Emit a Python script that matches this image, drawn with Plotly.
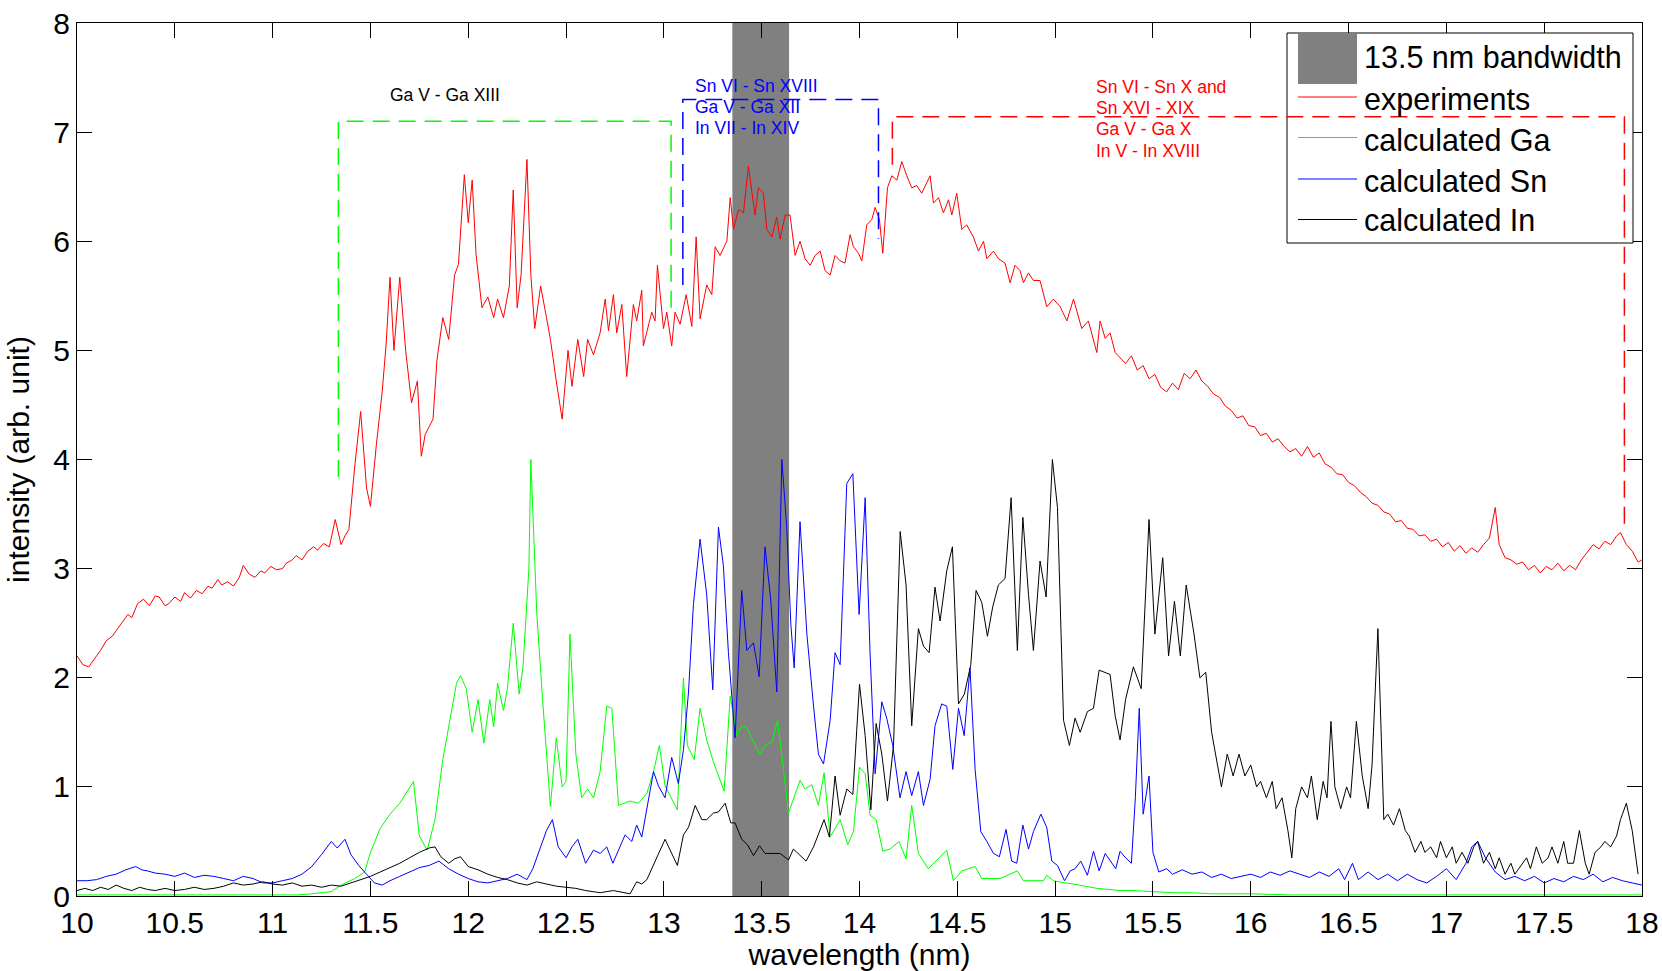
import plotly.graph_objects as go

# ---------------- data ----------------
exp_x = [10.00, 10.03, 10.06, 10.09, 10.12, 10.15, 10.18, 10.20, 10.23, 10.26, 10.28, 10.31, 10.34, 10.37, 10.40,
         10.42, 10.45, 10.47, 10.50, 10.53, 10.55, 10.58, 10.61, 10.64, 10.67, 10.69, 10.72, 10.74, 10.77, 10.80,
         10.83, 10.85, 10.88, 10.91, 10.94, 10.96, 10.99, 11.02, 11.05, 11.07, 11.10, 11.12, 11.15, 11.18, 11.21,
         11.23, 11.26, 11.29, 11.32, 11.35, 11.37, 11.39, 11.42, 11.45, 11.48, 11.50, 11.53, 11.56, 11.58, 11.60,
         11.62, 11.65, 11.68, 11.71, 11.74, 11.76, 11.78, 11.82, 11.84, 11.87, 11.90, 11.93, 11.95, 11.98, 12.00,
         12.02, 12.04, 12.07, 12.10, 12.13, 12.15, 12.18, 12.21, 12.23, 12.25, 12.27, 12.30, 12.32, 12.34, 12.37,
         12.40, 12.42, 12.45, 12.48, 12.51, 12.53, 12.56, 12.59, 12.61, 12.64,
         12.674, 12.700, 12.717, 12.742, 12.759, 12.785, 12.810, 12.844, 12.861, 12.887, 12.895, 12.938, 12.955,
         12.967, 12.998, 13.015, 13.040, 13.057, 13.083, 13.114, 13.143, 13.165, 13.185, 13.219, 13.245, 13.262,
         13.287, 13.322, 13.339, 13.356, 13.381, 13.407, 13.432, 13.466, 13.483, 13.509, 13.526, 13.552, 13.577,
         13.594, 13.620, 13.645, 13.671, 13.696, 13.722, 13.748, 13.773, 13.799, 13.824, 13.850, 13.875, 13.901,
         13.926, 13.952, 13.969, 13.995, 14.012, 14.037, 14.063, 14.080, 14.102, 14.119, 14.143, 14.165, 14.191,
         14.216, 14.242, 14.267, 14.293, 14.318, 14.361, 14.378, 14.404, 14.429, 14.455, 14.472, 14.497, 14.523,
         14.548, 14.582, 14.608, 14.634, 14.651, 14.685, 14.710, 14.744, 14.770, 14.795, 14.821, 14.838, 14.864,
         14.889, 14.923, 14.957, 14.991, 15.026, 15.060, 15.094, 15.136, 15.170, 15.213, 15.230, 15.256, 15.281,
         15.307, 15.332,
         15.36, 15.39, 15.42, 15.45, 15.48, 15.51, 15.54, 15.57, 15.60, 15.63, 15.66, 15.69, 15.72, 15.75, 15.78,
         15.81, 15.84, 15.87, 15.90, 15.93, 15.96, 15.99, 16.02, 16.05, 16.08, 16.11, 16.14, 16.17, 16.20, 16.23,
         16.26, 16.29, 16.32, 16.35, 16.38, 16.41, 16.44, 16.47, 16.50, 16.53, 16.56, 16.59, 16.62, 16.65, 16.68,
         16.71, 16.74, 16.77, 16.80, 16.83, 16.86, 16.89, 16.92, 16.95, 16.98, 17.01, 17.04, 17.07, 17.10, 17.13,
         17.16, 17.19, 17.22, 17.25, 17.27, 17.30, 17.33, 17.36, 17.39, 17.42, 17.45, 17.48, 17.51, 17.54, 17.57,
         17.60, 17.63, 17.66, 17.69, 17.72, 17.75, 17.78, 17.81, 17.84, 17.87, 17.89, 17.92, 17.95, 17.98, 18.00]
exp_y = [2.20, 2.12, 2.10, 2.17, 2.25, 2.34, 2.38, 2.43, 2.50, 2.58, 2.55, 2.68, 2.72, 2.66, 2.75,
         2.74, 2.66, 2.68, 2.74, 2.70, 2.78, 2.73, 2.80, 2.77, 2.84, 2.82, 2.90, 2.85, 2.88, 2.84,
         2.92, 3.03, 2.95, 2.92, 2.98, 2.96, 3.02, 2.99, 3.00, 3.05, 3.08, 3.12, 3.08, 3.16, 3.20,
         3.17, 3.23, 3.20, 3.45, 3.22, 3.30, 3.36, 3.94, 4.44, 3.74, 3.57, 4.13, 4.62, 5.05, 5.67,
         5.00, 5.67, 5.00, 4.52, 4.72, 4.03, 4.23, 4.37, 4.91, 5.30, 5.10, 5.69, 5.79, 6.61, 6.17,
         6.56, 5.88, 5.39, 5.49, 5.30, 5.47, 5.30, 5.59, 6.47, 5.39, 5.69, 6.75, 5.69, 5.20, 5.59,
         5.30, 5.10, 4.72, 4.37, 5.00, 4.67, 5.10, 4.76, 5.10, 4.96,
         5.16, 5.47, 5.18, 5.51, 5.16, 5.42, 4.76, 5.42, 5.27, 5.55, 5.04, 5.35, 5.27,
         5.78, 5.20, 5.35, 5.04, 5.35, 5.24, 5.51, 5.22, 6.04, 5.29, 5.60, 5.51, 5.95,
         5.87, 6.00, 6.40, 6.11, 6.29, 6.26, 6.69, 6.24, 6.49, 6.44, 6.11, 6.04, 6.22,
         6.02, 6.24, 6.24, 5.87, 6.00, 5.84, 5.78, 5.87, 5.91, 5.73, 5.69, 5.87, 5.82,
         5.80, 6.06, 5.95, 5.89, 5.82, 6.15, 6.20, 6.31, 6.20, 5.89, 6.49, 6.60, 6.56,
         6.73, 6.60, 6.49, 6.51, 6.44, 6.60, 6.35, 6.40, 6.26, 6.38, 6.24, 6.44, 6.11,
         6.15, 6.04, 5.91, 6.00, 5.84, 5.91, 5.84, 5.80, 5.62, 5.78, 5.73, 5.62, 5.71,
         5.64, 5.64, 5.40, 5.47, 5.40, 5.27, 5.47, 5.20, 5.27, 4.98, 5.27, 5.11, 5.16,
         4.98, 4.93,
         4.88, 4.95, 4.82, 4.86, 4.74, 4.78, 4.66, 4.62, 4.70, 4.64, 4.79, 4.74, 4.82, 4.72, 4.67,
         4.60, 4.57, 4.49, 4.45, 4.38, 4.40, 4.31, 4.30, 4.22, 4.24, 4.16, 4.19, 4.12, 4.07, 4.10,
         4.03, 4.12, 4.02, 4.06, 3.96, 3.93, 3.87, 3.86, 3.79, 3.76, 3.70, 3.66, 3.60, 3.58, 3.52,
         3.50, 3.43, 3.44, 3.37, 3.36, 3.30, 3.31, 3.25, 3.27, 3.20, 3.24, 3.16, 3.21, 3.14, 3.19,
         3.15, 3.22, 3.28, 3.56, 3.22, 3.10, 3.08, 3.04, 3.06, 2.99, 3.03, 2.96, 3.02, 2.99, 3.05,
         2.98, 3.03, 2.99, 3.08, 3.15, 3.22, 3.18, 3.25, 3.22, 3.30, 3.33, 3.22, 3.16, 3.06, 3.08]

ga_x = [10.00, 10.50, 11.00, 11.13, 11.20, 11.30, 11.35, 11.42, 11.47, 11.50, 11.55, 11.60, 11.65, 11.70, 11.72,
        11.75, 11.79, 11.83, 11.87, 11.91, 11.94, 11.96, 11.99, 12.02, 12.05, 12.08, 12.11, 12.13, 12.15, 12.18,
        12.20, 12.23, 12.26, 12.28, 12.31, 12.32, 12.35, 12.38, 12.40, 12.42, 12.45, 12.48, 12.50, 12.52, 12.55,
        12.58, 12.61, 12.64,
        12.674, 12.708, 12.734, 12.768, 12.827, 12.870, 12.913, 12.947, 12.977, 13.006, 13.069, 13.100, 13.120,
        13.155, 13.185, 13.219, 13.253, 13.308, 13.339, 13.373, 13.398, 13.424, 13.489, 13.517, 13.552, 13.581,
        13.608, 13.637, 13.696, 13.722, 13.756, 13.790, 13.819, 13.850, 13.901, 13.940, 13.969, 14.000, 14.029,
        14.054, 14.085, 14.119, 14.156, 14.202, 14.238, 14.267, 14.301, 14.352, 14.412, 14.446, 14.480, 14.523,
        14.591, 14.625, 14.719, 14.807, 14.838, 14.940, 14.957, 14.991, 15.051, 15.094, 15.213, 15.332,
        15.40, 15.50, 15.60, 15.70, 15.80, 16.00, 16.20, 16.50, 17.00, 17.50, 18.00]
ga_y = [0.01, 0.01, 0.01, 0.01, 0.02, 0.04, 0.10, 0.16, 0.22, 0.40, 0.62, 0.75, 0.85, 1.00, 1.05,
        0.55, 0.42, 0.70, 1.25, 1.65, 1.95, 2.02, 1.90, 1.50, 1.80, 1.40, 1.80, 1.55, 1.95, 1.70,
        1.90, 2.50, 1.85, 2.10, 3.00, 4.00, 2.60, 1.80, 1.30, 0.82, 1.45, 1.00, 1.05, 2.40, 1.30,
        0.90, 0.98, 0.90,
        1.14, 1.74, 1.72, 0.83, 0.87, 0.85, 0.94, 1.14, 1.38, 1.01, 0.79, 2.00, 1.38,
        1.25, 1.72, 1.43, 1.23, 0.96, 1.83, 1.47, 1.56, 1.54, 1.30, 1.38, 1.41, 1.61,
        1.21, 0.76, 1.06, 0.98, 1.02, 0.83, 1.13, 0.54, 0.70, 0.47, 0.59, 1.18, 1.12,
        0.74, 0.70, 0.41, 0.43, 0.50, 0.34, 0.83, 0.39, 0.25, 0.36, 0.42, 0.14, 0.23,
        0.27, 0.16, 0.16, 0.23, 0.14, 0.14, 0.19, 0.14, 0.12, 0.11, 0.07, 0.05,
        0.05, 0.04, 0.03, 0.03, 0.02, 0.02, 0.01, 0.01, 0.01, 0.01, 0.01]

sn_x = [10.00, 10.05, 10.10, 10.15, 10.20, 10.25, 10.30, 10.33, 10.36, 10.40, 10.45, 10.50, 10.55, 10.60, 10.65,
        10.70, 10.75, 10.80, 10.85, 10.90, 10.95, 11.00, 11.05, 11.10, 11.15, 11.20, 11.25, 11.30, 11.33, 11.37,
        11.40, 11.44, 11.48, 11.52, 11.56, 11.60, 11.65, 11.70, 11.75, 11.80, 11.85, 11.90, 11.95, 12.00, 12.05,
        12.10, 12.15, 12.20, 12.25, 12.30, 12.33, 12.37, 12.40, 12.43, 12.46, 12.50, 12.53, 12.56, 12.60, 12.64,
        12.674, 12.708, 12.739, 12.802, 12.836, 12.861, 12.887, 12.947, 12.972, 13.006, 13.040, 13.074, 13.100,
        13.126, 13.151, 13.185, 13.219, 13.250, 13.279, 13.304, 13.330, 13.364, 13.398, 13.424, 13.458, 13.487,
        13.517, 13.546, 13.577, 13.603, 13.628, 13.649, 13.666, 13.696, 13.731, 13.765, 13.790, 13.816, 13.850,
        13.875, 13.901, 13.935, 13.966, 13.998, 14.029, 14.054, 14.080, 14.114, 14.139, 14.170, 14.207, 14.238,
        14.267, 14.301, 14.327, 14.361, 14.386, 14.420, 14.446, 14.477, 14.506, 14.535, 14.565, 14.591, 14.620,
        14.651, 14.685, 14.715, 14.749, 14.778, 14.804, 14.835, 14.864, 14.889, 14.927, 14.957, 14.983, 15.012,
        15.048, 15.077, 15.102, 15.131, 15.165, 15.196, 15.225, 15.256, 15.285, 15.310, 15.332,
        15.36, 15.39, 15.41, 15.43, 15.45, 15.48, 15.50, 15.53, 15.57, 15.60, 15.65, 15.70, 15.75, 15.80, 15.85,
        15.90, 15.95, 16.00, 16.05, 16.10, 16.15, 16.20, 16.25, 16.30, 16.35, 16.40, 16.45, 16.48, 16.52, 16.55,
        16.60, 16.65, 16.70, 16.75, 16.80, 16.85, 16.90, 16.95, 17.00, 17.05, 17.10, 17.13, 17.16, 17.20, 17.25,
        17.30, 17.35, 17.40, 17.45, 17.50, 17.55, 17.60, 17.65, 17.70, 17.75, 17.80, 17.85, 17.90, 17.95, 18.00]
sn_y = [0.14, 0.14, 0.15, 0.18, 0.20, 0.24, 0.27, 0.24, 0.23, 0.21, 0.20, 0.18, 0.21, 0.17, 0.19,
        0.18, 0.16, 0.14, 0.18, 0.16, 0.12, 0.12, 0.14, 0.16, 0.20, 0.27, 0.38, 0.50, 0.44, 0.52,
        0.38, 0.28, 0.20, 0.12, 0.10, 0.14, 0.18, 0.22, 0.26, 0.28, 0.32, 0.25, 0.20, 0.16, 0.13,
        0.12, 0.14, 0.16, 0.20, 0.15, 0.25, 0.45, 0.60, 0.70, 0.45, 0.35, 0.45, 0.52, 0.30, 0.42,
        0.39, 0.45, 0.30, 0.56, 0.50, 0.65, 0.54, 1.14, 1.01, 0.90, 1.27, 1.03, 1.34,
        1.87, 2.67, 3.27, 2.76, 1.89, 3.38, 3.03, 2.23, 1.45, 2.80, 2.25, 2.32, 2.01,
        3.20, 2.72, 1.87, 4.00, 3.38, 2.49, 2.09, 3.43, 2.40, 1.74, 1.30, 1.21, 1.61,
        2.23, 2.12, 3.78, 3.87, 2.58, 3.65, 2.23, 1.12, 1.78, 1.63, 1.38, 0.90, 1.14,
        0.92, 1.14, 0.83, 1.07, 1.56, 1.76, 1.74, 1.16, 1.72, 1.47, 2.09, 1.16, 0.59,
        0.50, 0.39, 0.36, 0.61, 0.32, 0.30, 0.65, 0.43, 0.59, 0.75, 0.63, 0.32, 0.28,
        0.14, 0.23, 0.25, 0.32, 0.19, 0.41, 0.23, 0.39, 0.32, 0.25, 0.41,
        0.35, 0.30, 0.90, 1.72, 0.75, 1.10, 0.40, 0.22, 0.25, 0.20, 0.24, 0.20, 0.22, 0.17, 0.20,
        0.16, 0.18, 0.20, 0.17, 0.22, 0.19, 0.23, 0.20, 0.17, 0.22, 0.18, 0.25, 0.15, 0.30, 0.15,
        0.22, 0.15, 0.20, 0.14, 0.20, 0.15, 0.12, 0.18, 0.25, 0.15, 0.30, 0.45, 0.50, 0.35, 0.22,
        0.15, 0.18, 0.14, 0.18, 0.12, 0.16, 0.13, 0.18, 0.15, 0.20, 0.13, 0.17, 0.14, 0.12, 0.10]

in_x = [10.00, 10.04, 10.08, 10.12, 10.16, 10.20, 10.24, 10.28, 10.32, 10.36, 10.40, 10.45, 10.50, 10.55, 10.60,
        10.65, 10.70, 10.75, 10.80, 10.85, 10.90, 10.95, 11.00, 11.05, 11.10, 11.15, 11.20, 11.25, 11.30, 11.35,
        11.40, 11.45, 11.50, 11.55, 11.60, 11.65, 11.70, 11.75, 11.80, 11.83, 11.86, 11.90, 11.93, 11.96, 12.00,
        12.05, 12.10, 12.15, 12.20, 12.25, 12.30, 12.35, 12.40, 12.45, 12.50, 12.55, 12.60, 12.64,
        12.674, 12.742, 12.827, 12.861, 12.887, 12.913, 12.955, 13.006, 13.069, 13.100, 13.126, 13.160, 13.194,
        13.219, 13.253, 13.279, 13.313, 13.342, 13.364, 13.398, 13.427, 13.458, 13.489, 13.517, 13.552, 13.594,
        13.637, 13.662, 13.727, 13.765, 13.819, 13.846, 13.875, 13.901, 13.935, 13.966, 14.000, 14.029, 14.058,
        14.085, 14.114, 14.143, 14.174, 14.191, 14.208, 14.238, 14.267, 14.301, 14.327, 14.356, 14.386, 14.412,
        14.446, 14.475, 14.506, 14.536, 14.569, 14.596, 14.625, 14.654, 14.681, 14.710, 14.744, 14.775, 14.807,
        14.835, 14.864, 14.889, 14.923, 14.954, 14.986, 15.012, 15.043, 15.073, 15.102, 15.128, 15.165, 15.196,
        15.225, 15.281, 15.307, 15.332,
        15.36, 15.40, 15.44, 15.48, 15.51, 15.55, 15.58, 15.61, 15.64, 15.67, 15.71, 15.74, 15.77, 15.80, 15.83,
        15.85, 15.88, 15.91, 15.94, 15.97, 16.00, 16.03, 16.05, 16.08, 16.11, 16.13, 16.16, 16.19, 16.21, 16.23,
        16.26, 16.29, 16.31, 16.34, 16.37, 16.39, 16.41, 16.43, 16.46, 16.49, 16.51, 16.54, 16.57, 16.60, 16.62,
        16.65, 16.67, 16.68, 16.70, 16.73, 16.76, 16.79, 16.81, 16.84, 16.87, 16.89, 16.92, 16.95, 16.97, 17.00,
        17.03, 17.05, 17.08, 17.11, 17.14, 17.16, 17.19, 17.22, 17.25, 17.27, 17.30, 17.33, 17.35, 17.38, 17.41,
        17.43, 17.46, 17.49, 17.52, 17.54, 17.57, 17.60, 17.62, 17.65, 17.68, 17.71, 17.73, 17.76, 17.79, 17.81,
        17.84, 17.87, 17.89, 17.92, 17.95, 17.98]
in_y = [0.05, 0.07, 0.05, 0.08, 0.06, 0.10, 0.07, 0.05, 0.08, 0.06, 0.05, 0.07, 0.05, 0.06, 0.08,
        0.06, 0.07, 0.09, 0.12, 0.10, 0.11, 0.13, 0.11, 0.10, 0.12, 0.09, 0.10, 0.08, 0.10, 0.09,
        0.12, 0.15, 0.18, 0.22, 0.26, 0.30, 0.35, 0.40, 0.44, 0.45, 0.36, 0.30, 0.34, 0.36, 0.27,
        0.24, 0.20, 0.17, 0.15, 0.12, 0.10, 0.13, 0.11, 0.09, 0.08, 0.07, 0.05, 0.04,
        0.03, 0.05, 0.02, 0.13, 0.11, 0.15, 0.32, 0.52, 0.28, 0.56, 0.63, 0.83, 0.70,
        0.70, 0.76, 0.77, 0.85, 0.67, 0.67, 0.52, 0.47, 0.37, 0.46, 0.39, 0.39, 0.39,
        0.33, 0.43, 0.32, 0.45, 0.70, 0.54, 1.10, 0.74, 0.98, 0.93, 1.94, 1.47, 0.79,
        1.58, 1.30, 0.87, 1.38, 2.32, 3.34, 2.85, 1.56, 2.45, 2.29, 2.23, 2.83, 2.52,
        2.98, 3.20, 1.76, 1.85, 2.12, 2.80, 2.69, 2.38, 2.65, 2.85, 2.91, 3.65, 2.25,
        3.47, 2.76, 2.25, 3.07, 2.74, 4.00, 3.56, 1.61, 1.38, 1.63, 1.50, 1.69, 1.72,
        2.07, 2.03, 1.65, 1.43,
        1.80, 2.10, 1.90, 3.45, 2.40, 3.10, 2.20, 2.70, 2.20, 2.85, 2.40, 2.00, 2.05, 1.50, 1.20,
        1.00, 1.30, 1.10, 1.30, 1.10, 1.20, 1.00, 1.05, 0.90, 1.05, 0.80, 0.90, 0.60, 0.35, 0.80,
        1.00, 0.90, 1.10, 0.70, 1.05, 0.90, 1.60, 1.00, 0.80, 1.00, 0.90, 1.60, 1.10, 0.80, 1.20,
        2.45, 1.30, 0.70, 0.75, 0.65, 0.80, 0.60, 0.55, 0.40, 0.50, 0.40, 0.45, 0.35, 0.50, 0.35,
        0.45, 0.30, 0.40, 0.30, 0.45, 0.50, 0.30, 0.40, 0.25, 0.35, 0.20, 0.30, 0.20, 0.28, 0.35,
        0.25, 0.45, 0.30, 0.35, 0.45, 0.30, 0.50, 0.30, 0.30, 0.60, 0.30, 0.20, 0.40, 0.45, 0.50,
        0.45, 0.55, 0.70, 0.85, 0.60, 0.20]

band_x = [13.35, 13.64]           # 13.5 nm bandwidth
x_ticks = [10, 10.5, 11, 11.5, 12, 12.5, 13, 13.5, 14, 14.5, 15, 15.5, 16, 16.5, 17, 17.5, 18]
x_ticklabels = ["10", "10.5", "11", "11.5", "12", "12.5", "13", "13.5", "14", "14.5", "15", "15.5",
                "16", "16.5", "17", "17.5", "18"]
y_ticks = [0, 1, 2, 3, 4, 5, 6, 7, 8]

# ion-stage brackets (x, y of the dashed outline) and their labels
ga_bracket_x = [11.336, 11.336, 13.037, 13.037]
ga_bracket_y = [3.84, 7.10, 7.10, 5.33]
sn_bracket_x = [13.097, 13.097, 14.097, 14.097]
sn_bracket_y = [5.60, 7.30, 7.30, 6.02]
all_bracket_x = [14.168, 14.168, 17.91, 17.91]
all_bracket_y = [6.70, 7.14, 7.14, 3.40]

ga_label = ["Ga V - Ga XIII"]
sn_label = ["Sn VI - Sn XVIII", "Ga V - Ga XII", "In VII - In XIV"]
all_label = ["Sn VI - Sn X and", "Sn XVI - XIX", "Ga V - Ga X", "In V - In XVIII"]

legend_names = ["13.5 nm bandwidth", "experiments", "calculated Ga", "calculated Sn", "calculated In"]
colors = {"exp": "#FF0000", "ga": "#00FF00", "sn": "#0000FF", "in": "#000000", "band": "#808080"}

FONT = "Arial, 'Liberation Sans', Helvetica, sans-serif"

# ---------------- figure ----------------
fig = go.Figure()
fig.add_trace(go.Scatter(x=exp_x, y=exp_y, mode="lines", name=legend_names[1],
                         line=dict(color=colors["exp"], width=1)))
fig.add_trace(go.Scatter(x=ga_x, y=ga_y, mode="lines", name=legend_names[2],
                         line=dict(color=colors["ga"], width=1)))
fig.add_trace(go.Scatter(x=sn_x, y=sn_y, mode="lines", name=legend_names[3],
                         line=dict(color=colors["sn"], width=1)))
fig.add_trace(go.Scatter(x=in_x, y=in_y, mode="lines", name=legend_names[4],
                         line=dict(color=colors["in"], width=1)))

shapes = []
# grey band
shapes.append(dict(type="rect", xref="x", yref="y", x0=band_x[0], x1=band_x[1], y0=0, y1=8,
                   fillcolor=colors["band"], line=dict(width=0), layer="below"))

# manual legend (MATLAB style)
PX0, PW, PY0, PH = 77.0, 1565.0, 896.0, 873.0
def px(xp):
    return (xp - PX0) / PW
def py(yp):
    return (PY0 - yp) / PH

shapes.append(dict(type="rect", xref="paper", yref="paper", x0=px(1287), x1=px(1633), y0=py(243), y1=py(33),
                   fillcolor="white", line=dict(color="black", width=1), layer="above"))
shapes.append(dict(type="rect", xref="paper", yref="paper", x0=px(1298), x1=px(1357), y0=py(84), y1=py(34),
                   fillcolor=colors["band"], line=dict(width=0), layer="above"))
leg_rows = [97, 137.5, 179, 219.5]
for c, yy in zip(["exp", "ga", "sn", "in"], leg_rows):
    shapes.append(dict(type="line", xref="paper", yref="paper", x0=px(1298), x1=px(1357), y0=py(yy), y1=py(yy),
                       line=dict(color=colors[c], width=1), layer="above"))

def bracket(xs, ys, color):
    path = "M " + " L ".join(f"{a},{b}" for a, b in zip(xs, ys))
    return dict(type="path", xref="x", yref="y", path=path,
                line=dict(color=color, width=1.5, dash="17px,9px"), layer="above")

shapes.append(bracket(ga_bracket_x, ga_bracket_y, colors["ga"]))
shapes.append(bracket(sn_bracket_x, sn_bracket_y, colors["sn"]))
shapes.append(bracket(all_bracket_x, all_bracket_y, colors["exp"]))

annotations = []
leg_text_y = [57, 99, 140, 181, 220]
for name, yy in zip(legend_names, leg_text_y):
    annotations.append(dict(xref="paper", yref="paper", x=px(1362), y=py(yy), text=name, showarrow=False,
                            xanchor="left", yanchor="middle", font=dict(size=30.5, color="black", family=FONT)))

annotations.append(dict(xref="x", yref="y", x=11.59, y=7.34, text=ga_label[0], showarrow=False,
                        xanchor="left", yanchor="middle", font=dict(size=17.5, color="black", family=FONT)))
for i, t in enumerate(sn_label):
    annotations.append(dict(xref="x", yref="y", x=13.148, y=7.42 - 0.19 * i, text=t, showarrow=False,
                            xanchor="left", yanchor="middle", font=dict(size=17.5, color=colors["sn"], family=FONT)))
for i, t in enumerate(all_label):
    annotations.append(dict(xref="x", yref="y", x=15.2, y=7.415 - 0.195 * i, text=t, showarrow=False,
                            xanchor="left", yanchor="middle", font=dict(size=17.5, color=colors["exp"], family=FONT)))

fig.update_layout(
    width=1662, height=971,
    margin=dict(l=77, r=20, t=23, b=75, pad=0),
    template="none",
    plot_bgcolor="white", paper_bgcolor="white",
    showlegend=False,
    font=dict(family=FONT, color="black"),
    shapes=shapes, annotations=annotations,
)
axis_common = dict(ticks="inside", ticklen=15, tickwidth=1, tickcolor="black",
                   showline=True, linecolor="black", linewidth=1, mirror="ticks",
                   showgrid=False, zeroline=False, automargin=False,
                   tickfont=dict(size=30, family=FONT, color="black"))
fig.update_xaxes(range=[10, 18], tickmode="array", tickvals=x_ticks, ticktext=x_ticklabels,
                 title=dict(text="wavelength (nm)", font=dict(size=30, family=FONT), standoff=4),
                 **axis_common)
fig.update_yaxes(range=[0, 8], tickmode="array", tickvals=y_ticks,
                 title=dict(text="intensity (arb. unit)", font=dict(size=30, family=FONT), standoff=14),
                 **axis_common)

fig.write_html("out.html", config={"displayModeBar": False})
